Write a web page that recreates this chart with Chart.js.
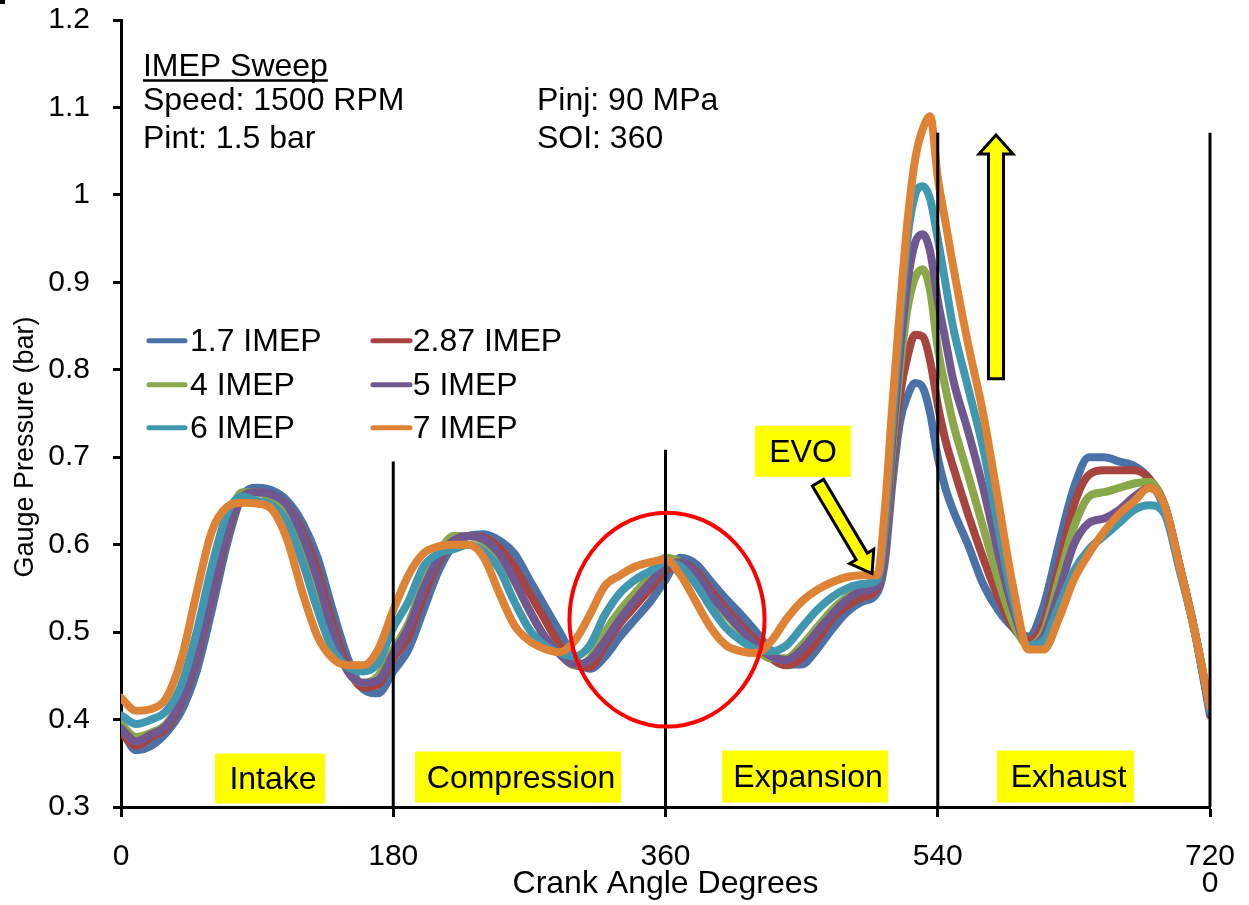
<!DOCTYPE html>
<html><head><meta charset="utf-8">
<script src="https://cdn.jsdelivr.net/npm/chart.js@4.4.1/dist/chart.umd.min.js"></script>
<style>html,body{margin:0;padding:0;background:#fff;}canvas{display:block;}</style>
</head><body>
<canvas id="c" width="1249" height="905"></canvas>
<script>
// ---- data ----
const angles = [0,10,20,30,40,50,60,70,80,90,100,110,120,130,140,150,160,170,180,
  190,200,210,220,230,240,250,260,270,280,290,300,310,320,330,340,350,360,
  370,380,390,400,410,420,430,440,450,460,470,480,490,500,
  505,510,515,520,525,530,535,540,545,550,
  560,570,580,590,600,610,620,630,640,650,660,670,680,690,700,710,720];

const imep17 = [0.39,0.365,0.37,0.385,0.41,0.455,0.525,0.6,0.655,0.665,0.662,0.65,0.625,0.585,0.525,0.47,0.435,0.43,0.455,
  0.48,0.525,0.57,0.6,0.61,0.612,0.605,0.59,0.56,0.53,0.5,0.47,0.458,0.472,0.495,0.515,0.535,0.56,
  0.585,0.578,0.558,0.538,0.52,0.5,0.478,0.463,0.463,0.48,0.503,0.523,0.535,0.545,
  0.58,0.67,0.74,0.77,0.785,0.78,0.75,0.70,0.665,0.64,
  0.6,0.555,0.525,0.505,0.495,0.53,0.6,0.665,0.70,0.70,0.695,0.69,0.675,0.64,0.575,0.5,0.41];

const imep287 = [0.385,0.37,0.38,0.39,0.42,0.47,0.54,0.61,0.655,0.66,0.657,0.645,0.615,0.57,0.51,0.46,0.437,0.44,0.47,
  0.495,0.54,0.58,0.605,0.61,0.608,0.597,0.575,0.545,0.515,0.485,0.462,0.46,0.485,0.51,0.53,0.55,0.57,
  0.58,0.57,0.548,0.527,0.508,0.49,0.47,0.462,0.47,0.49,0.515,0.53,0.54,0.55,
  0.59,0.69,0.77,0.815,0.84,0.838,0.81,0.76,0.72,0.69,
  0.635,0.585,0.54,0.505,0.49,0.51,0.575,0.645,0.68,0.685,0.685,0.685,0.675,0.645,0.575,0.5,0.41];

const imep4 = [0.395,0.38,0.385,0.395,0.425,0.48,0.55,0.62,0.66,0.66,0.652,0.635,0.6,0.55,0.495,0.455,0.442,0.45,0.48,
  0.51,0.555,0.59,0.61,0.61,0.603,0.587,0.558,0.525,0.495,0.475,0.462,0.47,0.5,0.525,0.545,0.565,0.585,
  0.58,0.565,0.54,0.52,0.5,0.48,0.47,0.47,0.485,0.505,0.525,0.54,0.548,0.555,
  0.6,0.71,0.80,0.87,0.905,0.915,0.89,0.825,0.78,0.74,
  0.68,0.62,0.56,0.51,0.485,0.5,0.56,0.62,0.655,0.66,0.665,0.67,0.672,0.645,0.575,0.5,0.41];

const imep5 = [0.39,0.375,0.383,0.393,0.423,0.475,0.545,0.615,0.655,0.66,0.657,0.645,0.61,0.56,0.5,0.455,0.442,0.445,0.475,
  0.505,0.55,0.585,0.605,0.61,0.606,0.59,0.56,0.525,0.495,0.475,0.463,0.468,0.49,0.515,0.537,0.557,0.575,
  0.58,0.567,0.543,0.522,0.503,0.485,0.472,0.468,0.48,0.5,0.52,0.537,0.547,0.553,
  0.6,0.72,0.82,0.9,0.945,0.955,0.935,0.88,0.835,0.79,
  0.73,0.665,0.59,0.525,0.485,0.495,0.545,0.6,0.625,0.63,0.64,0.655,0.665,0.645,0.575,0.5,0.405];

const imep6 = [0.405,0.395,0.4,0.41,0.44,0.5,0.575,0.635,0.655,0.65,0.645,0.625,0.58,0.525,0.48,0.46,0.455,0.465,0.505,
  0.535,0.575,0.59,0.595,0.6,0.592,0.572,0.535,0.503,0.485,0.476,0.472,0.485,0.52,0.545,0.56,0.57,0.58,
  0.575,0.555,0.528,0.505,0.49,0.48,0.478,0.485,0.505,0.525,0.54,0.55,0.555,0.56,
  0.62,0.74,0.85,0.95,1.0,1.01,0.995,0.95,0.9,0.85,
  0.78,0.71,0.62,0.535,0.485,0.49,0.53,0.57,0.595,0.61,0.625,0.64,0.645,0.635,0.57,0.5,0.41];

const imep7 = [0.425,0.41,0.412,0.425,0.47,0.545,0.615,0.643,0.648,0.647,0.64,0.605,0.545,0.495,0.47,0.462,0.462,0.48,0.525,
  0.565,0.59,0.598,0.6,0.6,0.585,0.545,0.508,0.49,0.481,0.477,0.49,0.52,0.553,0.565,0.575,0.58,0.583,
  0.565,0.535,0.505,0.485,0.478,0.476,0.49,0.515,0.535,0.548,0.557,0.563,0.565,0.565,
  0.64,0.76,0.87,0.97,1.04,1.075,1.09,1.02,0.97,0.92,
  0.83,0.75,0.65,0.55,0.48,0.48,0.515,0.56,0.59,0.615,0.635,0.65,0.665,0.645,0.575,0.5,0.415];

const seriesLabels = ['1.7 IMEP','2.87 IMEP','4 IMEP','5 IMEP','6 IMEP','7 IMEP'];
const xTickValues = [0,180,360,540,720];
const xTickLabels = ['0','180','360','540',['720','0']];
const phaseLabels = ['Intake','Compression','Expansion','Exhaust'];
const headerLines = ['IMEP Sweep','Speed: 1500 RPM','Pint: 1.5 bar'];
const headerLines2 = ['Pinj: 90 MPa','SOI: 360'];

// ---- styles ----
const seriesColors = ['#4A72A8','#A8443F','#8AA84A','#71578F','#3F98B0','#DE8236'];
const FONT = "'Liberation Sans', Arial, sans-serif";

const allSeries = [imep17, imep287, imep4, imep5, imep6, imep7];
const datasets = allSeries.map((vals, i) => ({
  label: seriesLabels[i],
  data: angles.map((a, j) => ({x: a, y: vals[j]})),
  borderColor: seriesColors[i],
  backgroundColor: seriesColors[i],
  borderWidth: 8,
  pointRadius: 0,
  fill: false,
  cubicInterpolationMode: 'monotone',
  borderCapStyle: 'round',
  borderJoinStyle: 'round',
  order: allSeries.length - i
}));

function blockArrow(ctx, sx, sy, tx, ty, shaftHalf, headHalf, headLen) {
  const dx = tx - sx, dy = ty - sy, L = Math.hypot(dx, dy);
  const ux = dx / L, uy = dy / L, nx = -uy, ny = ux;
  const bx = tx - ux * headLen, by = ty - uy * headLen;
  ctx.beginPath();
  ctx.moveTo(sx + nx * shaftHalf, sy + ny * shaftHalf);
  ctx.lineTo(bx + nx * shaftHalf, by + ny * shaftHalf);
  ctx.lineTo(bx + nx * headHalf, by + ny * headHalf);
  ctx.lineTo(tx, ty);
  ctx.lineTo(bx - nx * headHalf, by - ny * headHalf);
  ctx.lineTo(bx - nx * shaftHalf, by - ny * shaftHalf);
  ctx.lineTo(sx - nx * shaftHalf, sy - ny * shaftHalf);
  ctx.closePath();
  ctx.fillStyle = '#FFFF00';
  ctx.fill();
  ctx.lineWidth = 3;
  ctx.strokeStyle = '#000';
  ctx.lineJoin = 'miter';
  ctx.stroke();
}

const annot = {
  id: 'annot',
  afterDatasetsDraw(chart) {
    const {ctx, scales: {x, y}} = chart;
    const X = v => x.getPixelForValue(v), Y = v => y.getPixelForValue(v);
    ctx.save();
    // phase divider lines
    const dividers = [[180, 0.695], [360, 0.7086], [540, 1.071], [720, 1.071]];
    ctx.strokeStyle = '#000'; ctx.lineWidth = 3;
    dividers.forEach(([a, top]) => {
      ctx.beginPath(); ctx.moveTo(X(a), Y(top)); ctx.lineTo(X(a), Y(0.3)); ctx.stroke();
    });
    // red ellipse
    ctx.beginPath();
    ctx.ellipse(X(361), Y(0.5143), X(361 + 64.5) - X(361), Y(0.5143) - Y(0.5143 + 0.1223), 0, 0, Math.PI * 2);
    ctx.strokeStyle = '#FF0000'; ctx.lineWidth = 4; ctx.stroke();
    // phase boxes
    const boxes = [[62.1, 134.9, 0.3611, 0.304], [194.4, 330.6, 0.3634, 0.3051], [397.4, 507.1, 0.3646, 0.3051], [579.2, 669.8, 0.3646, 0.3051]];
    ctx.font = '32px ' + FONT;
    ctx.textAlign = 'center'; ctx.textBaseline = 'middle';
    boxes.forEach((b, i) => {
      const x0 = X(b[0]), x1 = X(b[1]), y0 = Y(b[2]), y1 = Y(b[3]);
      ctx.fillStyle = '#FFFF00'; ctx.fillRect(x0, y0, x1 - x0, y1 - y0);
      ctx.fillStyle = '#000'; ctx.fillText(phaseLabels[i], (x0 + x1) / 2 + 3, (y0 + y1) / 2 + 2);
    });
    // EVO box
    {
      const x0 = X(419.2), x1 = X(482.6), y0 = Y(0.736), y1 = Y(0.6777);
      ctx.fillStyle = '#FFFF00'; ctx.fillRect(x0, y0, x1 - x0, y1 - y0);
      ctx.fillStyle = '#000'; ctx.fillText('EVO', (x0 + x1) / 2, (y0 + y1) / 2 + 2);
    }
    // arrows
    blockArrow(ctx, X(460.8), Y(0.6709), X(496.5), Y(0.5669), 6.5, 14, 20);
    blockArrow(ctx, X(578.5), Y(0.7897), X(578.5), Y(1.0686), 7.5, 17, 19);
    // header text
    ctx.textAlign = 'left'; ctx.textBaseline = 'alphabetic'; ctx.fillStyle = '#000';
    ctx.font = '32px ' + FONT;
    const hv = [1.1354, 1.0971, 1.0537];
    headerLines.forEach((t, i) => ctx.fillText(t, X(14.5), Y(hv[i])));
    headerLines2.forEach((t, i) => ctx.fillText(t, X(275), Y(hv[i + 1])));
    const w = ctx.measureText(headerLines[0]).width;
    ctx.beginPath(); ctx.moveTo(X(14.5), Y(hv[0]) + 4); ctx.lineTo(X(14.5) + w, Y(hv[0]) + 4);
    ctx.lineWidth = 2.5; ctx.strokeStyle = '#000'; ctx.stroke();
    // legend
    const rows = [0.8331, 0.7829, 0.7337];
    const cols = [[18.5, 42.3, 45.6], [166.6, 191.1, 192.9]];
    ctx.font = '32px ' + FONT; ctx.textBaseline = 'middle';
    seriesLabels.forEach((lab, i) => {
      const c = cols[i % 2], r = rows[Math.floor(i / 2)];
      ctx.beginPath(); ctx.moveTo(X(c[0]), Y(r)); ctx.lineTo(X(c[1]), Y(r));
      ctx.strokeStyle = seriesColors[i]; ctx.lineWidth = 5; ctx.lineCap = 'round'; ctx.stroke();
      ctx.fillStyle = '#000'; ctx.fillText(lab, X(c[2]), Y(r) + 1);
    });
    ctx.restore();
  },
  afterDraw(chart) {
    const {ctx, chartArea} = chart;
    ctx.save();
    ctx.fillStyle = '#000';
    ctx.fillRect(0, 0, 5, 4);
    // axis titles
    ctx.font = '27px ' + FONT; ctx.textAlign = 'center'; ctx.textBaseline = 'middle';
    ctx.translate(26, 447); ctx.rotate(-Math.PI / 2);
    ctx.fillText('Gauge Pressure (bar)', 0, 0);
    ctx.restore();
    ctx.save();
    ctx.font = '32px ' + FONT; ctx.textAlign = 'center'; ctx.textBaseline = 'alphabetic'; ctx.fillStyle = '#000';
    ctx.fillText('Crank Angle Degrees', (chartArea.left + chartArea.right) / 2, 893);
    ctx.restore();
  }
};

new Chart(document.getElementById('c'), {
  type: 'line',
  data: {datasets},
  options: {
    responsive: false,
    animation: false,
    devicePixelRatio: 1,
    layout: {padding: {top: 20, right: 39, bottom: 0, left: 0}},
    plugins: {legend: {display: false}, tooltip: {enabled: false}},
    scales: {
      x: {
        type: 'linear', min: 0, max: 720,
        afterBuildTicks: s => { s.ticks = xTickValues.map(v => ({value: v})); },
        ticks: {
          callback: v => xTickLabels[xTickValues.indexOf(v)],
          font: {family: FONT, size: 30, lineHeight: 0.9},
          color: '#000', padding: 26, maxRotation: 0, autoSkip: false
        },
        grid: {display: true, drawOnChartArea: false, drawTicks: true, tickLength: 10, tickWidth: 3, tickColor: '#000'},
        border: {display: true, color: '#000', width: 3},
        afterFit: s => { s.height = 98; s.paddingLeft = 0; s.paddingRight = 0; }
      },
      y: {
        min: 0.3, max: 1.2,
        ticks: {
          stepSize: 0.1,
          callback: v => String(Math.round(v * 10) / 10),
          font: {family: FONT, size: 30},
          color: '#000', padding: 23
        },
        grid: {display: true, drawOnChartArea: false, drawTicks: true, tickLength: 8, tickWidth: 3, tickColor: '#000'},
        border: {display: true, color: '#000', width: 3},
        afterFit: s => { s.width = 121; s.paddingTop = 0; s.paddingBottom = 0; }
      }
    }
  },
  plugins: [annot]
});
</script>
</body></html>
